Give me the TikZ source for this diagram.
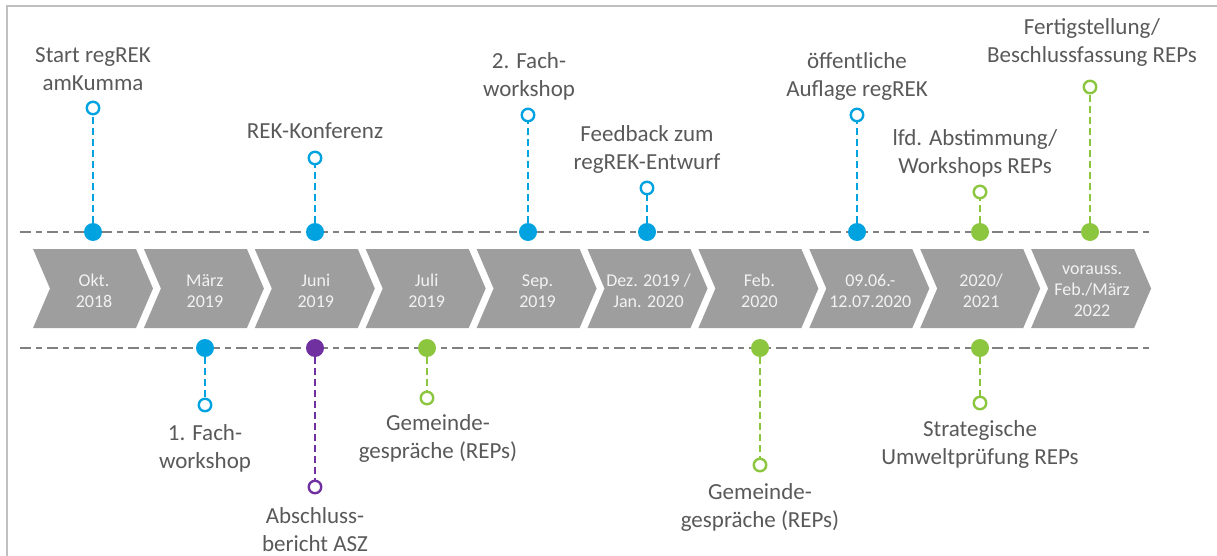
\documentclass[tikz,border=0pt]{standalone}
\usepackage{fontspec}
\setmainfont{Carlito}
\definecolor{cblue}{RGB}{0,163,224}
\definecolor{cgreen}{RGB}{140,198,63}
\definecolor{cpurple}{RGB}{112,48,160}
\definecolor{cline}{RGB}{128,128,128}
\definecolor{chev}{RGB}{158,158,158}
\definecolor{ctext}{RGB}{89,89,89}
\definecolor{cframe}{RGB}{192,192,192}
\begin{document}
\begin{tikzpicture}[x=1pt,y=-1pt,
  tline/.style={cline, line width=2.5pt, dash pattern=on 11pt off 5pt on 6pt off 5pt},
  dot/.style={circle, fill=#1, inner sep=0pt, minimum size=18pt},
  ring/.style={circle, draw=#1, fill=white, line width=2.4pt, inner sep=0pt, minimum size=12.5pt},
  stem/.style={draw=#1, line width=2.2pt, dash pattern=on 7pt off 4pt},
  lab/.style={text=ctext, align=center, inner sep=1pt, font=\fontsize{23}{28}\selectfont},
  chevtext/.style={text=white!95!black, align=center, font=\fontsize{18}{21}\selectfont},
  chevshape/.style={fill=chev}]
\useasboundingbox (0,0) rectangle (1217,556);
% frame
\draw[cframe, line width=2pt] (6.5,556) -- (6.5,6.5) -- (1217,6.5);
% timeline lines
\coordinate (uL) at (20,232);
\coordinate (uR) at (1153,232);
\coordinate (lL) at (20,348);
\coordinate (lR) at (1153,348);
\draw[tline] (uL) -- (uR);
\draw[tline] (lL) -- (lR);
% chevrons
\foreach \i/\t in {0/{Okt.\\2018},1/{März\\2019},2/{Juni\\2019},3/{Juli\\2019},4/{Sep.\\2019},5/{Dez. 2019 /\\Jan. 2020},6/{Feb.\\2020},7/{09.06.-\\12.07.2020},8/{2020/\\2021},9/{vorauss.\\Feb./März\\2022}}{
  \pgfmathsetmacro\L{33+\i*110.9}
  \fill[chevshape] (\L,249) -- ++(103,0) -- ++(17,39.5) -- ++(-17,39.5) -- ++(-103,0) -- ++(17,-39.5) -- cycle;
  \node[chevtext] (c\i) at (\L+61,291) {\t};
}
% upper events
\node[dot=cblue] (u1) at (93,232) {};
\node[ring=cblue] (r1) at (93,108) {};
\node[lab] (t1) at (93,69) {Start regREK\\amKumma};
\draw[stem=cblue] (u1) -- (r1);

\node[dot=cblue] (u2) at (315,232) {};
\node[ring=cblue] (r2) at (315,158) {};
\node[lab] (t2) at (315,131) {REK-Konferenz};
\draw[stem=cblue] (u2) -- (r2);

\node[dot=cblue] (u3) at (528,232) {};
\node[ring=cblue] (r3) at (528,115) {};
\node[lab] (t3) at (529,76) {2. Fach-\\workshop};
\draw[stem=cblue] (u3) -- (r3);

\node[dot=cblue] (u4) at (647,232) {};
\node[ring=cblue] (r4) at (647,188) {};
\node[lab] (t4) at (647,149) {Feedback zum\\regREK-Entwurf};
\draw[stem=cblue] (u4) -- (r4);

\node[dot=cblue] (u5) at (857,232) {};
\node[ring=cblue] (r5) at (857,115) {};
\node[lab] (t5) at (857,76) {öffentliche\\Auflage regREK};
\draw[stem=cblue] (u5) -- (r5);

\node[dot=cgreen] (u6) at (980,232) {};
\node[ring=cgreen] (r6) at (980,192) {};
\node[lab] (t6) at (975,153) {lfd. Abstimmung/\\Workshops REPs};
\draw[stem=cgreen] (u6) -- (r6);

\node[dot=cgreen] (u7) at (1090,232) {};
\node[ring=cgreen] (r7) at (1090,87) {};
\node[lab] (t7) at (1092,42) {Fertigstellung/\\Beschlussfassung REPs};
\draw[stem=cgreen] (u7) -- (r7);

% lower events
\node[dot=cblue] (l1) at (205,348) {};
\node[ring=cblue] (s1) at (205,405) {};
\node[lab] (b1) at (205,448) {1. Fach-\\workshop};
\draw[stem=cblue] (l1) -- (s1);

\node[dot=cpurple] (l2) at (315,348) {};
\node[ring=cpurple] (s2) at (315,487) {};
\node[lab] (b2) at (315,530) {Abschluss-\\bericht ASZ};
\draw[stem=cpurple] (l2) -- (s2);

\node[dot=cgreen] (l3) at (427,348) {};
\node[ring=cgreen] (s3) at (427,398) {};
\node[lab] (b3) at (438,438) {Gemeinde-\\gespräche (REPs)};
\draw[stem=cgreen] (l3) -- (s3);

\node[dot=cgreen] (l4) at (760,348) {};
\node[ring=cgreen] (s4) at (760,465) {};
\node[lab] (b4) at (760,507) {Gemeinde-\\gespräche (REPs)};
\draw[stem=cgreen] (l4) -- (s4);

\node[dot=cgreen] (l5) at (980,348) {};
\node[ring=cgreen] (s5) at (980,403) {};
\node[lab] (b5) at (980,444) {Strategische\\Umweltprüfung REPs};
\draw[stem=cgreen] (l5) -- (s5);
\end{tikzpicture}
\end{document}
